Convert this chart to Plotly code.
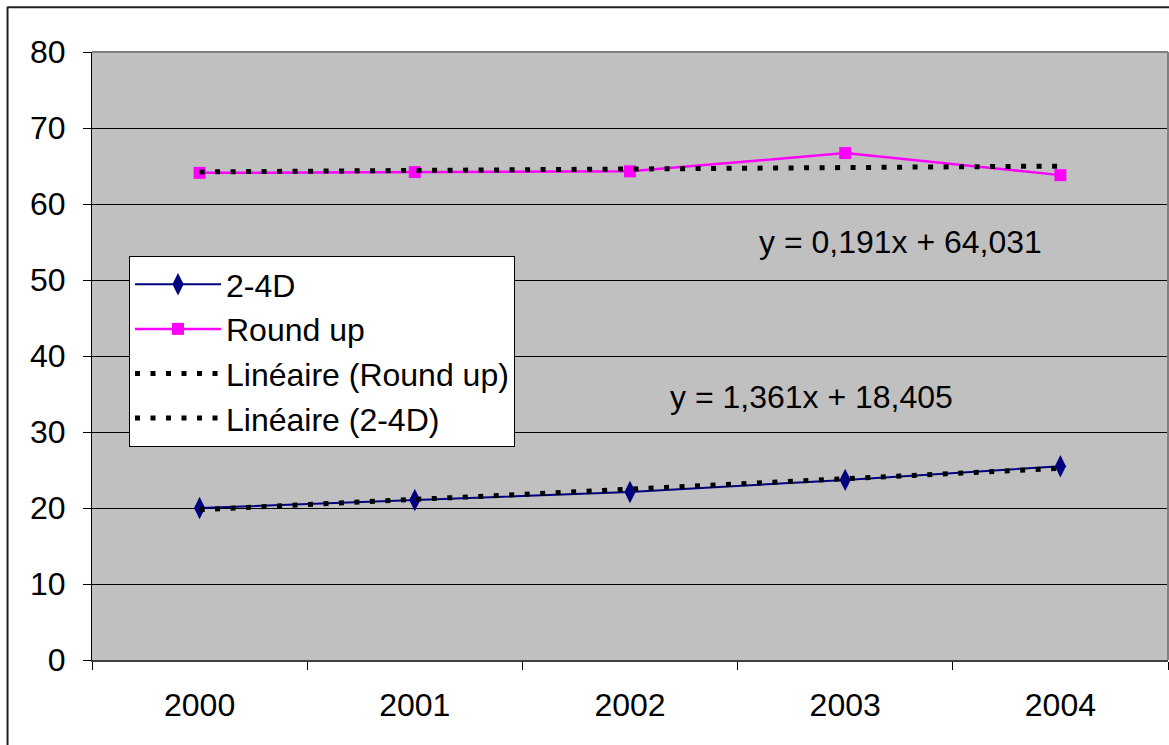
import plotly.graph_objects as go

years = ["2000", "2001", "2002", "2003", "2004"]
d24 = [20.0, 21.05, 22.1, 23.7, 25.5]
roundup = [64.1, 64.2, 64.3, 66.7, 63.8]
# trendline coefficients as printed on the chart
trend_ru = (0.191, 64.031)
trend_24 = (1.361, 18.405)
y_ticks = [0, 10, 20, 30, 40, 50, 60, 70, 80]

FONT = "Liberation Sans, Arial, sans-serif"
FS = 32

idx = list(range(1, len(years) + 1))
tr_ru_vals = [trend_ru[0] * i + trend_ru[1] for i in idx]
tr_24_vals = [trend_24[0] * i + trend_24[1] for i in idx]

fig = go.Figure()
fig.add_trace(go.Scatter(
    x=years, y=d24, name="2-4D", mode="lines+markers", legendrank=1, legendgroup="a",
    line=dict(color="#000080", width=2),
    marker=dict(symbol="diamond-tall", size=16, color="#000080"),
))
fig.add_trace(go.Scatter(
    x=years, y=roundup, name="Round up", mode="lines+markers", legendrank=2, legendgroup="b",
    line=dict(color="#FF00FF", width=2.5),
    marker=dict(symbol="square", size=12, color="#FF00FF"),
))
fig.add_trace(go.Scatter(
    x=years, y=tr_ru_vals, name="Linéaire (Round up)", mode="lines", legendrank=3,
    legendgroup="c",
    line=dict(color="black", width=5, dash="5px,10.5px"),
))
fig.add_trace(go.Scatter(
    x=years, y=tr_24_vals, name="Linéaire (2-4D)", mode="lines", legendrank=4,
    legendgroup="d",
    line=dict(color="black", width=5, dash="5px,10.5px"),
))

fig.add_annotation(x=3.258, y=55.0, xref="x", yref="y", showarrow=False,
                   text="y = 0,191x + 64,031", font=dict(size=FS, color="black", family=FONT))
fig.add_annotation(x=2.844, y=34.6, xref="x", yref="y", showarrow=False,
                   text="y = 1,361x + 18,405", font=dict(size=FS, color="black", family=FONT))

# outer chart border (left and top edges; right/bottom fall outside the picture)
fig.add_shape(type="line", xref="paper", yref="paper",
              x0=-0.0785, x1=-0.0785, y0=-0.15, y1=1.0745,
              line=dict(color="#202020", width=2), layer="above")
fig.add_shape(type="line", xref="paper", yref="paper",
              x0=-0.0785, x1=1.01, y0=1.0735, y1=1.0735,
              line=dict(color="#202020", width=2), layer="above")
# plot area top/right border (grey)
fig.add_shape(type="line", xref="paper", yref="paper", x0=0, x1=1, y0=1, y1=1,
              line=dict(color="#808080", width=2), layer="above")
fig.add_shape(type="line", xref="paper", yref="paper", x0=1, x1=1, y0=0, y1=1,
              line=dict(color="#808080", width=2), layer="above")

fig.update_layout(
    width=1169, height=745,
    margin=dict(l=92, r=1, t=52, b=85),
    paper_bgcolor="white", plot_bgcolor="#C0C0C0",
    font=dict(family=FONT, size=FS, color="black"),
    showlegend=True,
    legend=dict(x=0.0344, y=0.6645, xanchor="left", yanchor="top",
                bgcolor="white", bordercolor="black", borderwidth=1,
                font=dict(size=FS, family=FONT, color="black"),
                itemwidth=86, tracegroupgap=0),
    xaxis=dict(type="category", range=[-0.5, 4.5], tickson="boundaries",
               ticks="outside", ticklen=8, tickcolor="black", tickwidth=1,
               showgrid=False, showline=True, linecolor="#404040", linewidth=2,
               ticklabelstandoff=16, tickfont=dict(size=FS)),
    yaxis=dict(range=[0, 80], tickvals=y_ticks, ticks="outside", ticklen=8,
               tickcolor="black", tickwidth=1, showgrid=True, gridcolor="black",
               gridwidth=1, showline=True, linecolor="black", linewidth=1,
               zeroline=False, ticklabelstandoff=11, tickfont=dict(size=FS)),
)

fig.write_html("out.html", config={"displayModeBar": False},
               post_script="document.body.style.margin='0';document.body.style.overflow='hidden';")
